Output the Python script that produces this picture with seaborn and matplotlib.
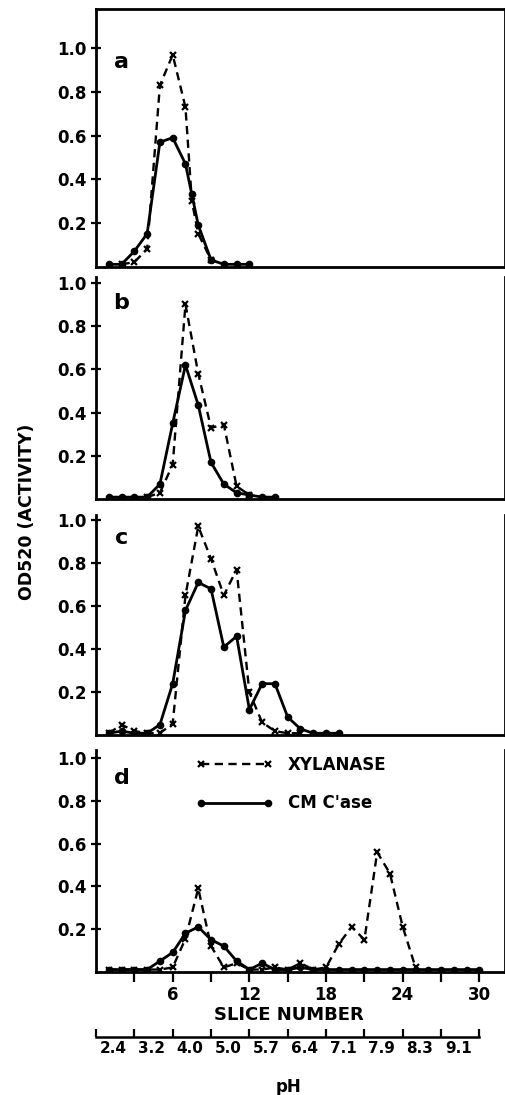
import matplotlib
matplotlib.use("Agg")
import matplotlib.pyplot as plt
import seaborn as sns
from matplotlib.ticker import FixedLocator, FixedFormatter

# ---------------- data ----------------
a_cm_x = [1, 2, 3, 4, 5, 6, 7, 7.5, 8, 9, 10, 11, 12]
a_cm_y = [0.01, 0.01, 0.07, 0.15, 0.57, 0.59, 0.47, 0.33, 0.19, 0.03, 0.01, 0.01, 0.01]
a_xy_x = [2, 3, 4, 5, 6, 7, 7.5, 8, 9]
a_xy_y = [0.01, 0.02, 0.08, 0.83, 0.97, 0.73, 0.30, 0.15, 0.03]

b_cm_x = [1, 2, 3, 4, 5, 6, 7, 8, 9, 10, 11, 12, 13, 14]
b_cm_y = [0.01, 0.01, 0.01, 0.01, 0.07, 0.35, 0.62, 0.435, 0.17, 0.07, 0.03, 0.02, 0.01, 0.01]
b_xy_x = [4, 5, 6, 7, 8, 9, 10, 11, 12]
b_xy_y = [0.01, 0.03, 0.16, 0.90, 0.58, 0.33, 0.345, 0.06, 0.02]

c_cm_x = [1, 2, 3, 4, 5, 6, 7, 8, 9, 10, 11, 12, 13, 14, 15, 16, 17, 18, 19]
c_cm_y = [0.01, 0.02, 0.01, 0.01, 0.05, 0.24, 0.58, 0.71, 0.68, 0.41, 0.46, 0.12,
          0.24, 0.24, 0.085, 0.03, 0.01, 0.01, 0.01]
c_xy_x = [1, 2, 3, 4, 5, 6, 7, 8, 9, 10, 11, 12, 13, 14, 15, 16]
c_xy_y = [0.01, 0.05, 0.02, 0.01, 0.01, 0.055, 0.65, 0.97, 0.82, 0.65, 0.77, 0.20,
          0.06, 0.02, 0.01, 0.01]

d_cm_x = list(range(1, 31))
d_cm_y = [0.01, 0.01, 0.01, 0.01, 0.05, 0.09, 0.18, 0.21, 0.15, 0.12, 0.05, 0.01,
          0.04, 0.01, 0.01, 0.02, 0.01, 0.01, 0.01, 0.01, 0.01, 0.01, 0.01, 0.01,
          0.01, 0.01, 0.01, 0.01, 0.01, 0.01]
d_xy_x = list(range(1, 26))
d_xy_y = [0.01, 0.01, 0.01, 0.01, 0.01, 0.02, 0.155, 0.39, 0.12, 0.02, 0.04, 0.01,
          0.01, 0.02, 0.01, 0.04, 0.01, 0.02, 0.13, 0.21, 0.15, 0.56, 0.46, 0.21, 0.02]

panel_labels = ["a", "b", "c", "d"]
y_ticks = [0.2, 0.4, 0.6, 0.8, 1.0]
y_ticklabels = ["0.2", "0.4", "0.6", "0.8", "1.0"]
slice_ticks = [3, 6, 9, 12, 15, 18, 21, 24, 27, 30]
slice_ticklabels = ["", "6", "", "12", "", "18", "", "24", "", "30"]
ph_ticks = [0, 3, 6, 9, 12, 15, 18, 21, 24, 27, 30]
ph_labels = ["2.4", "3.2", "4.0", "5.0", "5.7", "6.4", "7.1", "7.9", "8.3", "9.1"]
series_names = ["XYLANASE", "CM C'ase"]

# ---------------- style ----------------
sns.set_style("ticks")
plt.rcParams["font.family"] = ["DejaVu Sans"]
plt.rcParams["font.weight"] = "bold"
plt.rcParams["axes.linewidth"] = 2.0
for k in ["axes.edgecolor", "xtick.color", "ytick.color", "text.color",
          "axes.labelcolor", "xtick.labelcolor", "ytick.labelcolor"]:
    plt.rcParams[k] = "black"

W, H = 506, 1095
fig = plt.figure(figsize=(W / 100, H / 100), dpi=100)

# (top_px, bottom_px, ymax, label_y)
geom = [
    (9, 266.5, 1.18, 0.935),
    (277, 499.3, 1.026, 0.906),
    (515, 735.4, 1.023, 0.916),
    (750, 971.7, 1.039, 0.908),
]
data = [
    (a_cm_x, a_cm_y, a_xy_x, a_xy_y),
    (b_cm_x, b_cm_y, b_xy_x, b_xy_y),
    (c_cm_x, c_cm_y, c_xy_x, c_xy_y),
    (d_cm_x, d_cm_y, d_xy_x, d_xy_y),
]

axes = []
for i, ((top, bot, ymax, ly), (cx, cy, xx, xy)) in enumerate(zip(geom, data)):
    ax = fig.add_axes([96 / W, 1 - bot / H, 409 / W, (bot - top) / H])
    axes.append(ax)
    sns.lineplot(x=xx, y=xy, ax=ax, color="black", lw=1.7,
                 linestyle=(0, (3.5, 2.3)), marker="x", markersize=5,
                 markeredgewidth=1.6, markeredgecolor="black", legend=False)
    sns.lineplot(x=cx, y=cy, ax=ax, color="black", lw=2.0, linestyle="-",
                 marker="o", markersize=5.5, markeredgewidth=0,
                 markeredgecolor="black", markerfacecolor="black", legend=False)
    ax.set_xlim(0, 32)
    ax.set_ylim(0, ymax)
    ax.set_yticks(y_ticks)
    ax.set_yticklabels(y_ticklabels)
    ax.tick_params(axis="y", direction="inout", length=7, width=1.6,
                   labelsize=12, pad=3, colors="black")
    ax.set_xlabel("")
    ax.set_ylabel("")
    for s in ax.spines.values():
        s.set_linewidth(2.0)
        s.set_color("black")
        s.set_visible(True)
    if i > 0:
        ax.spines["top"].set_visible(False)
    if i < 3:
        ax.tick_params(axis="x", bottom=False, labelbottom=False)
    else:
        ax.set_xticks(slice_ticks)
        ax.set_xticklabels(slice_ticklabels)
        ax.tick_params(axis="x", direction="out", length=7, width=1.6,
                       labelsize=12, pad=3, colors="black")
    ax.text(2.0, ly, panel_labels[i], fontsize=16, ha="center", va="center",
            color="black")

# legend in panel d
axd = axes[3]
handles = [axd.lines[0], axd.lines[1]]
leg = axd.legend(handles, series_names, loc="upper left",
                 bbox_to_anchor=(0.245, 0.975), frameon=False, numpoints=2,
                 handlelength=4.6, handletextpad=0.9, labelspacing=1.25,
                 borderpad=0, borderaxespad=0, prop={"size": 12, "weight": "bold"})

# axis titles
fig.text((96.7 + 12.78 * 15) / W, 1 - 1015 / H, "SLICE NUMBER", ha="center",
         va="center", fontsize=13, color="black")
fig.text(27 / W, 1 - 512 / H, "OD520 (ACTIVITY)", rotation=90, ha="center",
         va="center", fontsize=12.5, color="black")

# pH axis
axp = fig.add_axes([96 / W, 1 - 1037 / H, 409 / W, 0.02])
axp.patch.set_alpha(0)
axp.set_xlim(0, 32)
axp.set_yticks([])
for side in ["left", "right", "top"]:
    axp.spines[side].set_visible(False)
axp.spines["bottom"].set_bounds(0, 30)
axp.spines["bottom"].set_linewidth(1.8)
axp.spines["bottom"].set_color("black")
axp.xaxis.set_major_locator(FixedLocator(ph_ticks))
axp.xaxis.set_major_formatter(FixedFormatter([""] * len(ph_ticks)))
axp.xaxis.set_minor_locator(FixedLocator([t + 1.35 for t in ph_ticks[:-1]]))
axp.xaxis.set_minor_formatter(FixedFormatter(ph_labels))
axp.tick_params(axis="x", which="major", direction="in", length=6, width=1.6,
                colors="black")
axp.tick_params(axis="x", which="minor", length=0, labelsize=11, pad=3,
                colors="black")
fig.text((96.7 + 12.78 * 15) / W, 1 - 1087 / H, "pH", ha="center", va="center",
         fontsize=12, color="black")

fig.savefig("out.png", dpi=100)
